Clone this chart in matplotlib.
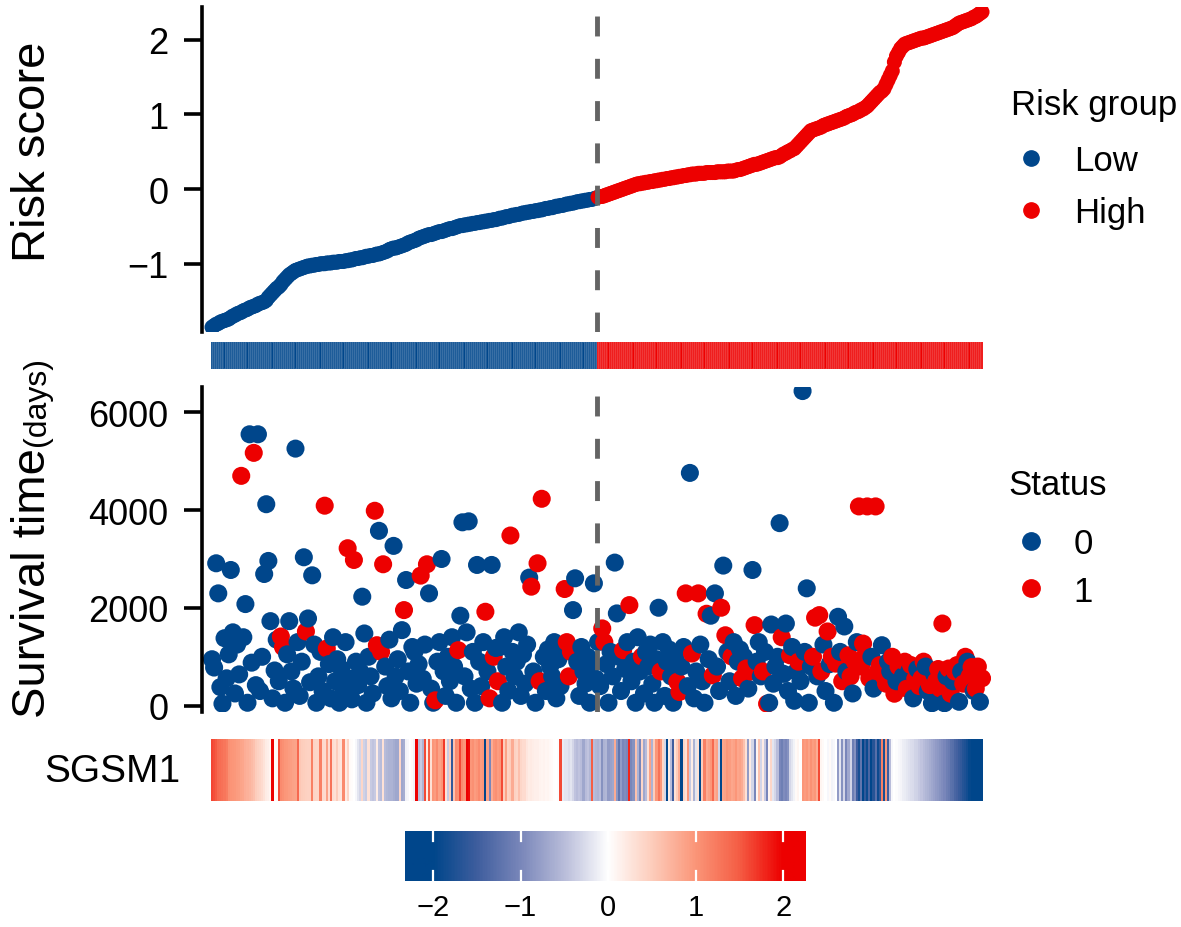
import numpy as np
import matplotlib
matplotlib.use("Agg")
import matplotlib.pyplot as plt
from matplotlib.colors import LinearSegmentedColormap, ListedColormap, Normalize
from matplotlib.lines import Line2D

plt.rcParams['font.family'] = ['Liberation Sans', 'DejaVu Sans']

W, H = 1181, 928
BLUE = '#00468B'
RED = '#ED0000'
GREY = '#646464'

# risk score of each sample, sorted ascending
RISK_SCORE = [
    -1.85, -1.83, -1.81, -1.80, -1.78, -1.77, -1.76, -1.75, -1.74, -1.72,
    -1.70, -1.69, -1.67, -1.66, -1.65, -1.63, -1.62, -1.61, -1.59, -1.58,
    -1.57, -1.56, -1.54, -1.53, -1.52, -1.51, -1.49, -1.45, -1.42, -1.39,
    -1.36, -1.33, -1.31, -1.28, -1.24, -1.21, -1.18, -1.15, -1.13, -1.11,
    -1.09, -1.08, -1.07, -1.06, -1.05, -1.04, -1.03, -1.03, -1.02, -1.02,
    -1.01, -1.01, -1.00, -1.00, -1.00, -0.99, -0.99, -0.99, -0.98, -0.98,
    -0.98, -0.97, -0.97, -0.97, -0.96, -0.96, -0.95, -0.95, -0.94, -0.93,
    -0.93, -0.92, -0.92, -0.91, -0.90, -0.90, -0.89, -0.89, -0.88, -0.87,
    -0.87, -0.86, -0.85, -0.84, -0.83, -0.81, -0.80, -0.79, -0.79, -0.78,
    -0.77, -0.76, -0.75, -0.74, -0.72, -0.71, -0.70, -0.69, -0.68, -0.66,
    -0.65, -0.64, -0.63, -0.62, -0.61, -0.61, -0.60, -0.59, -0.58, -0.57,
    -0.57, -0.56, -0.55, -0.54, -0.53, -0.53, -0.52, -0.51, -0.50, -0.49,
    -0.49, -0.48, -0.48, -0.47, -0.47, -0.46, -0.46, -0.45, -0.45, -0.44,
    -0.44, -0.43, -0.43, -0.42, -0.42, -0.41, -0.41, -0.40, -0.39, -0.39,
    -0.38, -0.37, -0.37, -0.36, -0.35, -0.35, -0.34, -0.34, -0.33, -0.32,
    -0.32, -0.31, -0.31, -0.30, -0.30, -0.29, -0.29, -0.28, -0.28, -0.27,
    -0.26, -0.26, -0.25, -0.25, -0.24, -0.23, -0.23, -0.22, -0.22, -0.21,
    -0.20, -0.20, -0.19, -0.19, -0.18, -0.17, -0.17, -0.16, -0.16, -0.15,
    -0.15, -0.14, -0.14, -0.13, -0.12, -0.11, -0.10, -0.10, -0.09, -0.08,
    -0.07, -0.06, -0.05, -0.04, -0.03, -0.02, -0.01, 0.00, 0.01, 0.02,
    0.03, 0.04, 0.05, 0.06, 0.07, 0.07, 0.08, 0.08, 0.09, 0.09,
    0.10, 0.10, 0.11, 0.11, 0.12, 0.12, 0.13, 0.13, 0.14, 0.14,
    0.15, 0.15, 0.16, 0.16, 0.17, 0.17, 0.18, 0.18, 0.19, 0.19,
    0.20, 0.20, 0.20, 0.21, 0.21, 0.21, 0.21, 0.22, 0.22, 0.22,
    0.22, 0.22, 0.23, 0.23, 0.23, 0.23, 0.23, 0.24, 0.24, 0.24,
    0.24, 0.25, 0.26, 0.26, 0.27, 0.28, 0.29, 0.30, 0.31, 0.32,
    0.33, 0.33, 0.34, 0.35, 0.36, 0.37, 0.38, 0.39, 0.40, 0.41,
    0.42, 0.42, 0.43, 0.45, 0.47, 0.48, 0.50, 0.51, 0.53, 0.54,
    0.57, 0.60, 0.63, 0.66, 0.69, 0.72, 0.75, 0.78, 0.79, 0.80,
    0.81, 0.82, 0.83, 0.85, 0.86, 0.87, 0.88, 0.89, 0.90, 0.91,
    0.92, 0.93, 0.94, 0.95, 0.97, 0.98, 0.99, 1.00, 1.02, 1.03,
    1.04, 1.06, 1.07, 1.09, 1.11, 1.14, 1.17, 1.20, 1.23, 1.26,
    1.29, 1.31, 1.34, 1.40, 1.46, 1.52, 1.58, 1.70, 1.78, 1.83,
    1.88, 1.91, 1.94, 1.95, 1.96, 1.97, 1.98, 1.99, 2.00, 2.01,
    2.02, 2.02, 2.03, 2.04, 2.05, 2.06, 2.07, 2.08, 2.09, 2.10,
    2.11, 2.12, 2.13, 2.14, 2.15, 2.16, 2.18, 2.20, 2.22, 2.23,
    2.24, 2.25, 2.26, 2.27, 2.28, 2.30, 2.31, 2.33, 2.35, 2.37,
]

SURVIVAL_DAYS = [
    950, 780, 2912, 2297, 380, 40, 1380, 560, 1050, 2775,
    1500, 250, 1250, 640, 4700, 1400, 2078, 60, 5550, 880,
    5170, 420, 5550, 300, 1000, 2693, 4120, 2960, 1729, 150,
    720, 1350, 500, 1415, 1200, 60, 1050, 1729, 700, 350,
    5257, 1300, 200, 900, 3035, 1518, 1784, 480, 2666, 1250,
    60, 600, 1100, 300, 4090, 1170, 850, 150, 1400, 500,
    950, 60, 750, 350, 1300, 3220, 550, 130, 2980, 900,
    420, 700, 2229, 1477, 60, 1000, 600, 250, 3986, 1237,
    3576, 1100, 2892, 800, 400, 1350, 150, 3268, 600, 950,
    300, 1545, 1955, 2570, 700, 60, 1200, 1100, 450, 850,
    2660, 550, 1250, 2892, 2297, 350, 60, 110, 900, 1300,
    3000, 700, 200, 1000, 500, 1400, 800, 60, 1135, 1840,
    3750, 600, 1500, 3770, 350, 1100, 60, 2878, 900, 400,
    1300, 1921, 700, 150, 2878, 1000, 1180, 500, 1200, 60,
    1400, 800, 300, 3480, 1100, 600, 900, 1500, 200, 1050,
    450, 1250, 2619, 2434, 700, 60, 2912, 500, 4231, 1000,
    300, 1150, 800, 600, 1300, 150, 950, 400, 1100, 2386,
    1300, 600, 1100, 1955, 2605, 900, 200, 1200, 700, 450,
    1000, 60, 850, 2502, 550, 1300, 400, 1580, 1300, 850,
    60, 1100, 600, 2926, 1887, 1000, 300, 1135, 750, 1300,
    2057, 500, 900, 60, 1400, 700, 1005, 250, 1100, 800,
    1250, 450, 60, 950, 2003, 700, 1300, 200, 900, 1150,
    600, 60, 1000, 490, 280, 800, 1200, 2297, 400, 4760,
    1066, 150, 700, 2297, 1250, 500, 60, 1880, 950, 1840,
    620, 2297, 800, 300, 2003, 2865, 1440, 1100, 500, 1005,
    1300, 200, 900, 1150, 560, 1000, 760, 350, 700, 2775,
    1647, 900, 1300, 600, 700, 1100, 40, 60, 1660, 450,
    800, 1000, 3733, 1400, 650, 1680, 300, 1030, 1200, 100,
    700, 900, 500, 6434, 1100, 2400, 60, 800, 1000, 1800,
    600, 1852, 700, 1250, 300, 1518, 850, 1000, 60, 860,
    1818, 1100, 500, 1620, 700, 1030, 600, 250, 900, 1300,
    4075, 800, 1270, 1030, 4075, 560, 1000, 350, 4075, 700,
    830, 1237, 600, 450, 900, 700, 1000, 245, 500, 800,
    830, 600, 900, 350, 700, 830, 150, 550, 750, 400,
    560, 900, 800, 300, 420, 50, 650, 500, 750, 350,
    1680, 50, 600, 760, 245, 500, 700, 830, 80, 700,
    450, 1000, 900, 600, 790, 300, 350, 800, 80, 560,
]

# vital status per sample (1 = dead), ten samples per chunk
STATUS_CODES = (
    "0000000000" "0000100000" "1000000000" "0001100000" "0000010000"
    "0000110000" "0000010010" "0000000011" "0110000000" "0010000000"
    "1001000100" "0000000010" "0000000000" "0101010100" "0001000000"
    "0001001110" "0000000001" "1110000000" "0000000110" "0000000100"
    "1000001000" "0000010000" "0001100100" "1001000100" "1000101001"
    "0000101010" "1000101000" "0001000100" "0100000011" "0110010101"
    "0010011010" "1111110011" "1011001101" "1011010101" "1100100111"
    "1001101100" "1101101101"
)

# scaled SGSM1 expression per sample
SGSM1 = [
    1.62, 1.58, 1.52, 1.40, 1.35, 1.32, 1.28, 1.22, 1.05, 1.02,
    1.00, 0.98, 0.95, 0.92, 0.88, 0.85, 0.78, 0.75, 0.72, 0.66,
    0.60, 0.50, 0.45, 0.40, 0.35, 0.28, 0.20, 0.15, 0.10, 2.00,
    0.05, 0.06, 1.60, 1.10, 1.05, 1.00, 0.98, 0.95, 0.92, 0.90,
    0.88, 1.40, 0.55, 0.50, 0.48, 0.46, 0.45, 0.44, 1.20, 0.42,
    0.40, 0.40, 1.20, 0.38, 0.36, 0.90, 0.35, 1.30, 0.34, 0.30,
    0.50, 0.28, 0.25, 1.10, 0.20, 0.40, 0.05, 0.03, 0.00, -0.05,
    -0.20, -0.30, 0.40, -0.35, -0.40, 0.30, -0.40, -0.45, -0.40, 0.20,
    -0.45, -0.50, 0.30, -0.50, -0.55, -0.60, -0.60, -0.65, -0.70, -0.70,
    0.40, -0.70, -0.65, -0.10, -0.05, 0.00, 0.05, -0.10, 2.00, -0.50,
    -0.40, -0.60, 1.60, 0.20, 1.50, 0.30, 1.00, 0.95, 1.10, 0.90,
    1.00, 1.70, 0.30, -0.40, 0.50, -1.60, 0.60, 1.10, 1.05, 1.60,
    1.10, 1.00, 2.00, 1.95, 1.00, 1.05, 0.95, 1.00, 1.10, 0.95,
    1.00, -2.00, 0.90, -1.00, 0.80, 1.00, 1.05, 0.95, 1.00, 1.60,
    0.50, 0.90, 0.45, 0.50, 0.80, 0.45, 0.40, 0.60, 0.40, 0.35,
    0.35, 0.25, 0.20, 0.22, 0.18, 0.15, 0.15, 0.12, 0.10, 0.12,
    0.08, 0.10, 0.06, 0.05, 0.02, 0.00, -0.02, 1.60, -0.15, -0.20,
    -0.20, -0.25, -0.20, -0.30, -0.45, -0.50, -0.45, -0.50, -0.70, -0.50,
    -0.45, -0.55, 1.50, -0.50, -0.55, -0.60, -0.50, -0.90, -0.60, -0.55,
    -0.80, -0.75, -0.70, 0.80, -0.85, -1.20, -0.80, -1.00, -0.95, -1.00,
    1.80, -1.00, -0.90, 0.60, -0.60, -1.00, 0.40, -0.70, -0.50, 0.30,
    0.90, -0.60, 0.50, 1.00, 1.30, 1.00, 0.40, -0.30, -2.00, 0.20,
    -0.50, -1.50, 0.30, 0.50, 0.80, -2.00, 0.40, 0.30, 1.00, -0.40,
    0.20, -0.60, -0.20, 0.30, -2.00, 0.50, 1.20, 0.80, 0.90, 1.00,
    1.40, 0.80, 0.90, -0.30, -2.00, 0.85, 0.90, 1.00, 0.95, 0.85,
    0.90, 1.00, 0.85, 0.90, 0.80, 0.60, 0.30, -0.80, 0.20, -0.30,
    -1.00, 0.10, 0.60, -0.30, 0.20, -0.40, -1.00, 0.10, 0.40, -0.20,
    -0.30, -0.50, -1.00, -1.10, -0.95, -1.00, -0.90, -0.30, -0.20, -0.10,
    0.05, 0.10, 0.00, 1.00, 0.95, 1.00, 0.90, 1.05, 0.95, 1.00,
    0.80, 1.60, 0.10, 0.05, 0.00, -0.05, 0.05, -0.10, -0.05, 0.00,
    -0.80, -0.20, -0.90, -0.30, -1.00, -0.70, -0.30, -1.10, -0.90, -1.50,
    -1.80, -1.20, -2.00, -1.60, -1.90, -1.40, -2.00, -1.70, -1.30, -1.90,
    -1.60, 1.20, -1.80, 1.00, -1.50, -0.50, -0.05, 0.00, -0.02, -0.05,
    -0.08, -0.12, -0.15, -0.18, -0.22, -0.25, -0.28, -0.32, -0.35, -0.40,
    -0.45, -0.50, -0.55, -0.60, -0.65, -0.70, -0.75, -0.80, -0.85, -0.90,
    -0.95, -1.00, -1.10, -1.15, -1.25, -1.30, -1.40, -1.45, -1.55, -1.60,
    -1.70, -1.75, -1.85, -1.95, -2.00, -2.10, -2.15, -2.20, -2.25, -2.30,
]

RISK_LABELS = ['Low', 'High']
STATUS_LABELS = ['0', '1']
CBAR_TICKS = [-2, -1, 0, 1, 2]
CBAR_LIMITS = (-2.32, 2.26)
# expression colour stops (value, colour)
EXPR_STOPS = [(-2.0, '#00468B'), (-1.5, '#3F5E9E'), (-1.0, '#7A87BA'),
              (-0.5, '#B9BDDA'), (0.0, '#FFFFFF'), (0.5, '#FDCDBC'),
              (1.0, '#FB9679'), (1.5, '#F55E45'), (2.0, '#ED0000')]

FONT_TICK = 26
FONT_TITLE = 34
FONT_LEGEND = 25


def px_rect(left, top, right, bottom):
    return [left / W, 1 - bottom / H, (right - left) / W, (bottom - top) / H]


def expr_cmap():
    vmin, vmax = CBAR_LIMITS
    stops = [(0.0, EXPR_STOPS[0][1])]
    for v, c in EXPR_STOPS:
        stops.append(((v - vmin) / (vmax - vmin), c))
    stops.append((1.0, EXPR_STOPS[-1][1]))
    return LinearSegmentedColormap.from_list('expr', stops)


def style_left_axis(ax):
    for side in ['top', 'right', 'bottom']:
        ax.spines[side].set_visible(False)
    ax.spines['left'].set_linewidth(2.6)
    ax.tick_params(axis='y', length=13, width=2.6, pad=11, labelsize=FONT_TICK)
    ax.set_xticks([])
    ax.patch.set_alpha(0)


def add_legend(fig, colors, labels, title, title_xy, top, spacing, msize):
    fig.text(title_xy[0] / W, 1 - title_xy[1] / H, title, ha='left',
             va='baseline', fontsize=FONT_LEGEND)
    handles = [Line2D([], [], marker='o', ls='', color=c, markersize=msize)
               for c in colors]
    fig.legend(handles, labels, loc='upper left',
               bbox_to_anchor=(1011 / W, 1 - top / H), frameon=False,
               fontsize=FONT_LEGEND, borderpad=0, borderaxespad=0,
               handlelength=1.15, handletextpad=0.66, labelspacing=spacing)


def main():
    score = np.array(RISK_SCORE)
    days = np.array(SURVIVAL_DAYS)
    status = np.array([int(c) for c in STATUS_CODES])
    expr = np.array(SGSM1)
    n = len(score)
    idx = np.arange(n)
    high = score > np.median(score)
    n_low = int(np.sum(~high))
    xlim = (-4.8, n + 3.3)

    fig = plt.figure(figsize=(W / 100, H / 100), dpi=100)

    # risk score curve
    ax1 = fig.add_axes(px_rect(202, 8, 991, 333))
    ax1.scatter(idx, score, c=np.where(high, RED, BLUE), s=117, linewidths=0)
    ax1.axvline(n_low - 0.5, color=GREY, lw=3.5, ls=(0, (4.1, 4.6)))
    ax1.set_xlim(xlim)
    ax1.set_ylim(-1.914, 2.436)
    ax1.set_yticks([-1, 0, 1, 2])
    style_left_axis(ax1)

    # risk group strip
    ax_bar = fig.add_axes(px_rect(202, 343, 991, 370))
    ax_bar.pcolormesh(np.arange(n + 1) - 0.5, [0, 1], high[None, :].astype(int),
                      cmap=ListedColormap([BLUE, RED]), vmin=0, vmax=1,
                      edgecolors=(1, 1, 1, 0.12), linewidth=0.2)
    ax_bar.set_xlim(xlim)
    ax_bar.axis('off')

    # survival scatter
    ax2 = fig.add_axes(px_rect(202, 388, 991, 713))
    ax2.scatter(idx, days, c=np.where(status == 1, RED, BLUE), s=169, linewidths=0)
    ax2.axvline(n_low - 0.5, color=GREY, lw=3.5, ls=(0, (4.1, 4.6)))
    ax2.set_xlim(xlim)
    ax2.set_ylim(-129, 6517)
    ax2.set_yticks([0, 2000, 4000, 6000])
    style_left_axis(ax2)

    # expression heatmap
    cmap = expr_cmap()
    norm = Normalize(*CBAR_LIMITS)
    ax3 = fig.add_axes(px_rect(202, 740, 991, 802))
    ax3.pcolormesh(np.arange(n + 1) - 0.5, [0, 1], expr[None, :], cmap=cmap, norm=norm)
    ax3.set_xlim(xlim)
    ax3.axis('off')

    # colour bar
    ax4 = fig.add_axes(px_rect(405, 832, 806, 882))
    grad = np.linspace(*CBAR_LIMITS, 400)
    ax4.imshow(grad[None, :], extent=[*CBAR_LIMITS, 0, 1], aspect='auto',
               cmap=cmap, norm=norm)
    for t in CBAR_TICKS:
        ax4.plot([t, t], [0, 0.2], color='white', lw=1.6)
        ax4.plot([t, t], [0.8, 1], color='white', lw=1.6)
    ax4.set_xlim(CBAR_LIMITS)
    ax4.set_ylim(0, 1)
    ax4.set_xticks(CBAR_TICKS)
    ax4.set_yticks([])
    ax4.tick_params(axis='x', length=0, pad=9, labelsize=21)
    for sp in ax4.spines.values():
        sp.set_visible(False)

    # axis titles
    fig.text(45 / W, 1 - 262 / H, 'Risk score', rotation=90, rotation_mode='anchor',
             ha='left', va='baseline', fontsize=FONT_TITLE)
    fig.text(45 / W, 1 - 718 / H, 'Survival time', rotation=90, rotation_mode='anchor',
             ha='left', va='baseline', fontsize=FONT_TITLE)
    fig.text(45 / W, 1 - 446 / H, '(days)', rotation=90, rotation_mode='anchor',
             ha='left', va='baseline', fontsize=23)
    fig.text(180 / W, 1 - 772 / H, 'SGSM1', ha='right', va='center', fontsize=28)

    # legends
    add_legend(fig, [BLUE, RED], RISK_LABELS, 'Risk group', (1011, 115), 145, 0.55, 11)
    add_legend(fig, [BLUE, RED], STATUS_LABELS, 'Status', (1008, 495), 528, 0.42, 12.5)

    fig.savefig('out.png', dpi=100)


if __name__ == "__main__":
    main()
